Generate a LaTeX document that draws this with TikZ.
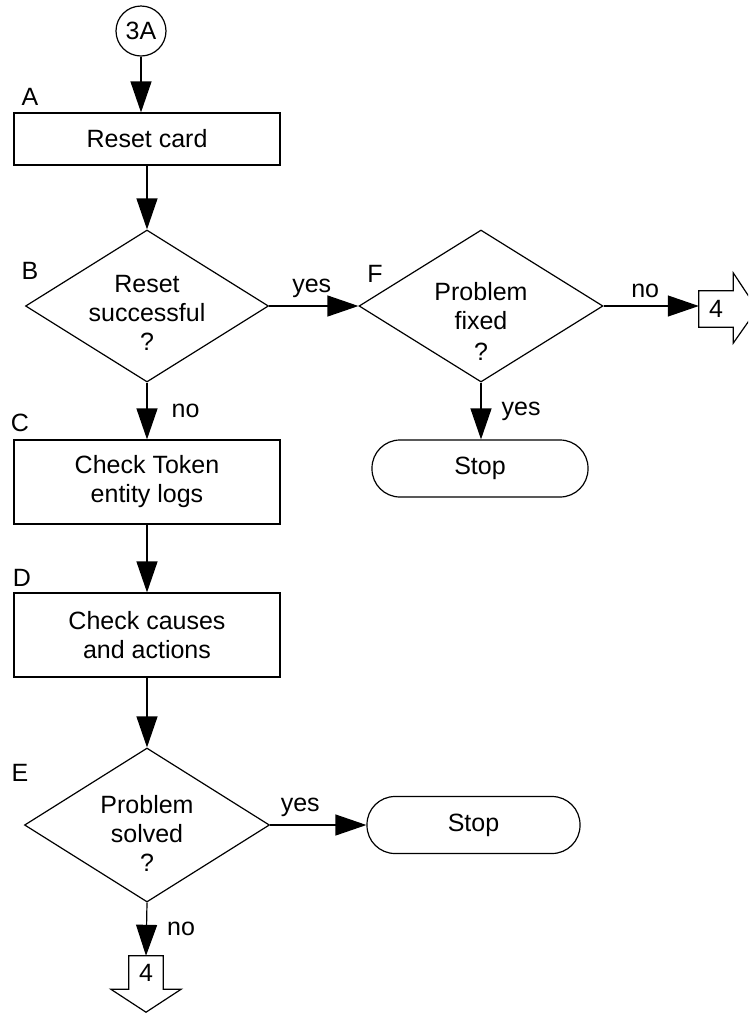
\documentclass[tikz,border=0pt]{standalone}
\usepackage{fontspec}
\setmainfont{Liberation Sans}
\usetikzlibrary{arrows.meta,shapes.geometric,calc}
\begin{document}
\begin{tikzpicture}[x=1pt,y=1pt,
  every node/.style={font=\fontsize{25}{29}\selectfont},
  base/.style={draw,line width=1.2pt},
  procbox/.style={base,rectangle,minimum width=266,minimum height=52,inner sep=0,align=center},
  decbox/.style={base,shape=diamond,inner sep=0},
  stopbox/.style={base,rectangle,rounded corners=28,minimum width=214,minimum height=57,inner sep=0},
  conn/.style={line width=1.2pt,-{Triangle[length=31pt,width=21pt]}},
  outline/.style={line width=1.2pt,line join=miter},
  tag/.style={inner sep=0},
  lbl/.style={inner sep=0}]
\clip (0,0) rectangle (748,-1013);

% connector circle
\node[base,circle,minimum size=50,inner sep=0] (c3A) at (141,-31) {3A};

% process boxes
\node[procbox] (A) at (147,-139) {Reset card};
\node[procbox,minimum height=84] (C) at (147,-482) {Check Token\\entity logs};
\node[procbox,minimum height=84] (D) at (147,-635) {Check causes\\and actions};

% decisions
\node[decbox,minimum width=243,minimum height=152] (B) at (147,-306) {};
\node[align=center,inner sep=0] (Bt) at (147,-313) {Reset\\successful\\?};
\node[decbox,minimum width=244,minimum height=152] (F) at (481,-306) {};
\node[align=center,inner sep=0] (Ft) at (481,-321) {Problem\\fixed\\[2pt]?};
\node[decbox,minimum width=245,minimum height=154] (E) at (147,-825) {};
\node[align=center,inner sep=0] (Et) at (147,-833) {Problem\\solved\\?};

% terminators
\node[stopbox,minimum width=216] (S1) at (480,-468.5) {Stop};
\node[stopbox,minimum width=213] (S2) at (473.5,-825) {Stop};

% off-page connectors "4"
\node[inner sep=0,minimum width=34,minimum height=36] (R4) at (716,-309) {4};
\draw[outline] (R4.north west) -- (R4.north east) -- ++(0,18)
  -- ($(R4.east)+(24,0)$) -- ($(R4.south east)+(0,-16)$)
  -- (R4.south east) -- (R4.south west) -- cycle;
\node[inner sep=0,minimum width=34,minimum height=33] (D4) at (146,-972.5) {4};
\draw[outline] (D4.north west) -- (D4.north east) -- (D4.south east) -- ++(18,0)
  -- ($(D4.south)+(0,-23)$) -- ($(D4.south west)+(-18,0)$)
  -- (D4.south west) -- cycle;

% step letters
\node[tag] (tA) at (30,-97) {A};
\node[tag] (tB) at (30,-271) {B};
\node[tag] (tC) at (20,-423) {C};
\node[tag] (tD) at (22,-578) {D};
\node[tag] (tE) at (20,-773) {E};
\node[tag] (tF) at (375,-274) {F};

% connectors
\draw[conn] (c3A.south) -- (c3A.south |- A.north);
\draw[conn] (A.south) -- (B.north);
\draw[conn] (B.east) -- (F.west) node[lbl,midway,above=8pt,xshift=-2pt] {yes};
\draw[conn] (F.east) -- (F.east -| R4.west) node[lbl,midway,above=8pt,xshift=-6pt] {no};
\draw[conn] (F.south) -- (S1.north -| F.south) node[lbl,midway,right=20pt] {yes};
\draw[conn] (B.south) -- (C.north) node[lbl,midway,right=24pt] {no};
\draw[conn] (C.south) -- (D.north);
\draw[conn] (D.south) -- (E.north);
\draw[conn] (E.east) -- (S2.west) node[lbl,midway,above=8pt,xshift=-18pt] {yes};
\draw[conn] (E.south) -- (D4.north) node[lbl,midway,right=20pt] {no};
\end{tikzpicture}
\end{document}
